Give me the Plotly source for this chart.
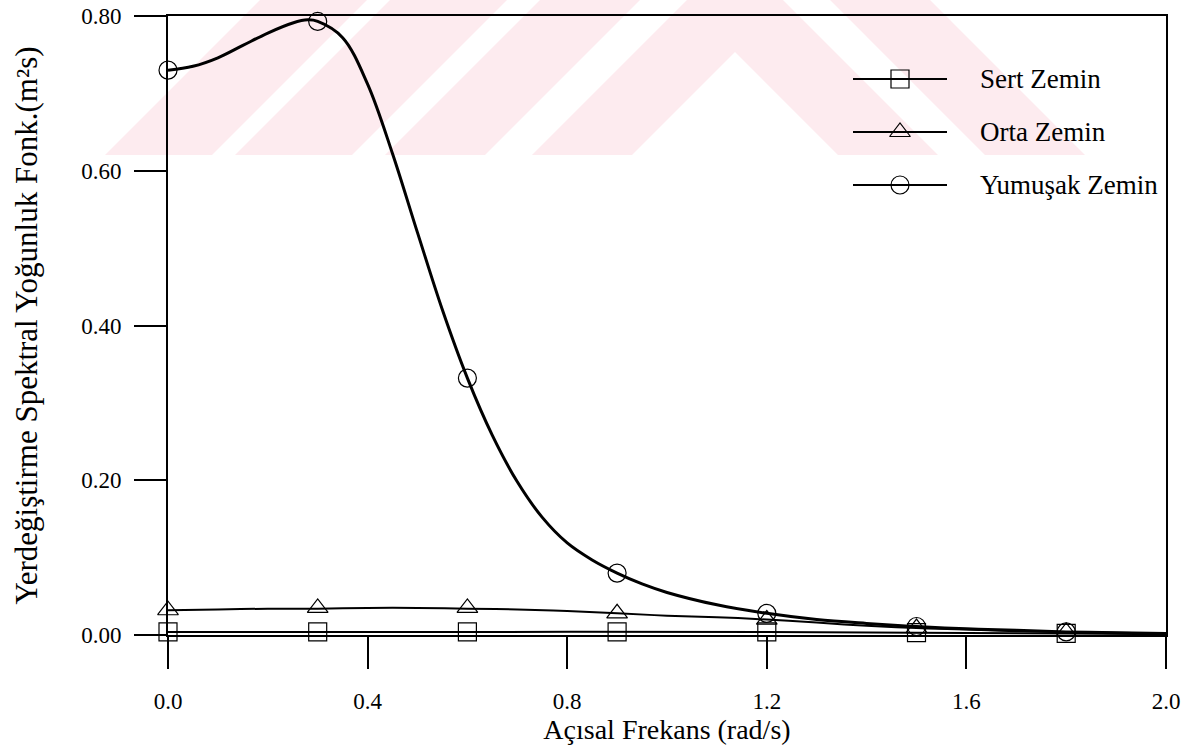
import plotly.graph_objects as go

# ---- figure geometry (pixels) ----
W, H = 1200, 749
ML, MR, MT, MB = 168, 34, 16, 114
PW, PH = W - ML - MR, H - MT - MB

# ---- data ----
freq = [0.0, 0.3, 0.6, 0.9, 1.2, 1.5, 1.8]
sert = [0.004, 0.004, 0.004, 0.004, 0.004, 0.003, 0.002]
orta = [0.032, 0.035, 0.035, 0.028, 0.020, 0.009, 0.004]
yumusak = [0.730, 0.793, 0.332, 0.080, 0.028, 0.011, 0.004]

# smooth spectra sampled along the curves
curve_freq_sert = [0.0, 0.6, 1.2, 1.5, 1.8, 2.0]
curve_sert = [0.004, 0.004, 0.004, 0.003, 0.002, 0.001]

curve_freq_orta = [0.0, 0.1, 0.2, 0.3, 0.4, 0.5, 0.6, 0.7, 0.8, 0.9, 1.0,
                   1.1, 1.2, 1.3, 1.4, 1.5, 1.6, 1.7, 1.8, 1.9, 2.0]
curve_orta = [0.032, 0.033, 0.034, 0.034, 0.035, 0.035, 0.034, 0.033, 0.031, 0.028, 0.025,
              0.023, 0.020, 0.016, 0.012, 0.009, 0.007, 0.005, 0.004, 0.003, 0.002]

curve_freq_yumusak = [0.0, 0.05, 0.1, 0.15, 0.2, 0.25, 0.28, 0.3, 0.35, 0.4, 0.45,
                      0.5, 0.55, 0.6, 0.65, 0.7, 0.75, 0.8, 0.85, 0.9, 0.95, 1.0,
                      1.1, 1.2, 1.3, 1.4, 1.5, 1.6, 1.7, 1.8, 1.9, 2.0]
curve_yumusak = [0.730, 0.735, 0.746, 0.762, 0.778, 0.791, 0.795, 0.793, 0.772, 0.712, 0.622,
                 0.520, 0.420, 0.332, 0.258, 0.198, 0.152, 0.119, 0.097, 0.080, 0.066, 0.055,
                 0.039, 0.028, 0.020, 0.015, 0.011, 0.008, 0.006, 0.004, 0.003, 0.002]

series_names = ["Sert Zemin", "Orta Zemin", "Yumuşak Zemin"]
series_symbols = ["square-open", "triangle-up-open", "circle-open"]
series_widths = [2, 2, 3]

x_ticks = [0.0, 0.4, 0.8, 1.2, 1.6, 2.0]
y_ticks = [0.0, 0.2, 0.4, 0.6, 0.8]

FONT = "Liberation Serif, Times New Roman, serif"


def to_paper(px, py):
    return (px - ML) / PW, (MT + PH - py) / PH


def clip_top(poly, ymin=0.0):
    """Clip a pixel polygon to y >= ymin (Sutherland-Hodgman)."""
    out = []
    n = len(poly)
    for i in range(n):
        p, q = poly[i], poly[(i + 1) % n]
        pin, qin = p[1] >= ymin, q[1] >= ymin
        if pin:
            out.append(p)
        if pin != qin:
            t = (ymin - p[1]) / (q[1] - p[1])
            out.append((p[0] + t * (q[0] - p[0]), ymin))
    return out


def path_from_pixels(poly):
    pts = [to_paper(x, y) for x, y in poly]
    return "M " + " L ".join(f"{x:.5f},{y:.5f}" for x, y in pts) + " Z"


fig = go.Figure()

# curves
curves = [(curve_freq_sert, curve_sert), (curve_freq_orta, curve_orta),
          (curve_freq_yumusak, curve_yumusak)]
for (cx, cy), name, lw in zip(curves, series_names, series_widths):
    fig.add_trace(go.Scatter(
        x=cx, y=cy, mode="lines", name=name, showlegend=False,
        line=dict(color="black", width=lw, shape="spline", smoothing=1.0),
        cliponaxis=False, hoverinfo="skip"))

# sampled points
for vals, name, sym in zip([sert, orta, yumusak], series_names, series_symbols):
    fig.add_trace(go.Scatter(
        x=freq, y=vals, mode="markers", name=name, showlegend=False,
        marker=dict(symbol=sym, size=18, color="black", line=dict(width=1.2, color="black")),
        cliponaxis=False))

# key drawn on an overlay axis spanning the plot area
key_rows_px = [79, 132, 185]
for row, name, sym in zip(key_rows_px, series_names, series_symbols):
    x0, _ = to_paper(853, row)
    xm, _ = to_paper(900, row)
    x1, yk = to_paper(947, row)
    fig.add_trace(go.Scatter(
        x=[x0, x1], y=[yk, yk], mode="lines", xaxis="x2", yaxis="y2",
        line=dict(color="black", width=2), showlegend=False, hoverinfo="skip",
        cliponaxis=False))
    fig.add_trace(go.Scatter(
        x=[xm], y=[yk], mode="markers", xaxis="x2", yaxis="y2",
        marker=dict(symbol=sym, size=18, color="black", line=dict(width=1.2, color="black")),
        showlegend=False, hoverinfo="skip", cliponaxis=False))
    tx, ty = to_paper(978, row)
    fig.add_annotation(x=tx, y=ty, xref="paper", yref="paper", text=name,
                       showarrow=False, xanchor="left", yanchor="middle",
                       font=dict(family=FONT, size=27, color="black"))

# faint chevron logo in the upper band of the page
CX, BASE = 735, 155
bands = [(103, 203, True), (250, 350, True), (383, 500, False), (523, 630, False)]
shapes = []
for a, b, both in bands:
    if both:
        poly = [(CX - b, BASE), (CX, BASE - b), (CX + b, BASE),
                (CX + a, BASE), (CX, BASE - a), (CX - a, BASE)]
    else:
        poly = [(CX - b, BASE), (CX, BASE - b), (CX, BASE - a), (CX - a, BASE)]
    poly = clip_top(poly, 0.0)
    shapes.append(dict(type="path", path=path_from_pixels(poly), xref="paper", yref="paper",
                       fillcolor="#fdebef", line=dict(width=0), layer="below"))

axis_common = dict(
    showline=True, linecolor="black", linewidth=2, mirror=True,
    ticks="outside", ticklen=32, tickwidth=2, tickcolor="black",
    showgrid=False, zeroline=False, automargin=False,
    tickfont=dict(family=FONT, size=23, color="black"),
)

fig.update_layout(
    width=W, height=H,
    margin=dict(l=ML, r=MR, t=MT, b=MB, autoexpand=False),
    paper_bgcolor="white", plot_bgcolor="rgba(0,0,0,0)",
    showlegend=False,
    shapes=shapes,
    xaxis=dict(range=[0, 2.0], tickvals=x_ticks, tickformat=".1f",
               ticklabelstandoff=12,
               title=dict(text="Açısal Frekans (rad/s)", standoff=6,
                          font=dict(family=FONT, size=28, color="black")),
               **axis_common),
    yaxis=dict(range=[0, 0.8], tickvals=y_ticks, tickformat=".2f",
               ticklabelstandoff=8,
               title=dict(text="Yerdeğiştirme Spektral Yoğunluk Fonk.(m²s)", standoff=34,
                          font=dict(family=FONT, size=31, color="black")),
               **axis_common),
    xaxis2=dict(range=[0, 1], overlaying="x", visible=False, domain=[0, 1]),
    yaxis2=dict(range=[0, 1], overlaying="y", visible=False, domain=[0, 1]),
)

fig.write_html("out.html")
